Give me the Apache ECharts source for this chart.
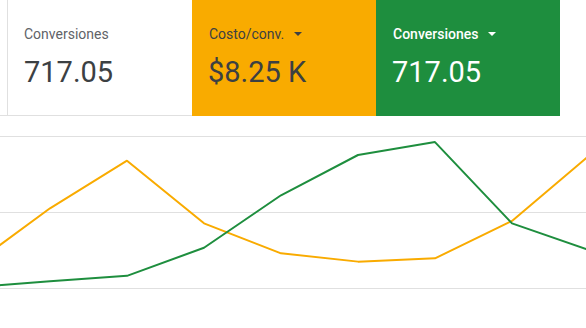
<!DOCTYPE html>
<html>
<head>
<meta charset="utf-8">
<script src="https://cdn.jsdelivr.net/npm/echarts@6/dist/echarts.min.js"></script>
<style>
  html, body { margin: 0; padding: 0; background: #fff; }
  body { width: 586px; height: 328px; position: relative; overflow: hidden; font-family: Roboto, "Noto Sans", Arial, sans-serif; }
  /* plot area runs slightly past both edges so the outer periods are cut off */
  #chart { position: absolute; left: -27px; top: 0; width: 616px; height: 328px; }
  .topline { position: absolute; left: 0; top: 115px; width: 376px; height: 1px; background: #e0e0e0; }
  .card { position: absolute; top: 0; height: 116px; box-sizing: border-box; }
  .card .label { position: absolute; left: 17px; top: 27px; font-size: 14px; line-height: 14px; white-space: nowrap; }
  .card .value { position: absolute; left: 16px; top: 58px; font-size: 29px; line-height: 29px; white-space: nowrap; }
  .card .arrow { display: inline-block; width: 0; height: 0; border-left: 4.5px solid transparent; border-right: 4.5px solid transparent; border-top: 4.5px solid currentColor; vertical-align: 3px; margin-left: 10px; }
  #c1 { left: 7px; width: 185px; height: 115px; background: #fff; border-left: 1px solid #e0e0e0; color: #3c4043; }
  #c1 .label { left: 16px; color: #5f6368; }
  #c2 { left: 192px; width: 184px; background: #f9ab00; color: #3c4043; }
  #c3 { left: 376px; width: 184px; background: #1e8e3e; color: #fff; }
  #c3 .label { font-weight: 500; }
</style>
</head>
<body>
<div id="chart"></div>
<div class="topline"></div>
<div class="card" id="c1"><div class="label">Conversiones</div><div class="value">717.05</div></div>
<div class="card" id="c2"><div class="label">Costo/conv.<span class="arrow"></span></div><div class="value">$8.25 K</div></div>
<div class="card" id="c3"><div class="label">Conversiones<span class="arrow"></span></div><div class="value">717.05</div></div>
<script>
// Nine consecutive periods; the first and last sit just past the visible edges.
const periods = ['P1', 'P2', 'P3', 'P4', 'P5', 'P6', 'P7', 'P8', 'P9'];
// Costo/conv. per period
const costPerConv = [3050, 10490, 16750, 8510, 4560, 3470, 3900, 8820, 17400];
// Conversiones per period
const conversions = [1, 9, 16, 53, 122, 175, 192, 85, 50];

const chart = echarts.init(document.getElementById('chart'), null, { renderer: 'canvas' });
chart.setOption({
  animation: false,
  grid: { left: 0, right: 0, top: 136, bottom: 40 },
  xAxis: {
    type: 'category',
    data: periods,
    boundaryGap: false,
    axisLine: { show: false },
    axisTick: { show: false },
    axisLabel: { show: false },
    splitLine: { show: false }
  },
  yAxis: [
    {
      type: 'value',
      min: 0, max: 20000, interval: 10000,
      axisLine: { show: false }, axisTick: { show: false }, axisLabel: { show: false },
      splitLine: { show: true, lineStyle: { color: '#e0e0e0', width: 1 } }
    },
    {
      type: 'value',
      min: 0, max: 200, interval: 100,
      axisLine: { show: false }, axisTick: { show: false }, axisLabel: { show: false },
      splitLine: { show: false }
    }
  ],
  series: [
    {
      name: 'Costo/conv.', type: 'line', yAxisIndex: 0, data: costPerConv,
      symbol: 'none', lineStyle: { color: '#f9ab00', width: 2 }, itemStyle: { color: '#f9ab00' }
    },
    {
      name: 'Conversiones', type: 'line', yAxisIndex: 1, data: conversions,
      symbol: 'none', lineStyle: { color: '#1e8e3e', width: 2 }, itemStyle: { color: '#1e8e3e' }
    }
  ]
});
</script>
</body>
</html>
